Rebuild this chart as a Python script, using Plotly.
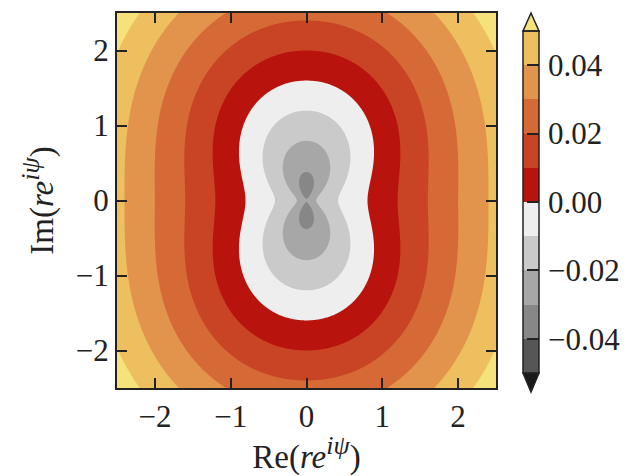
import numpy as np
import plotly.graph_objects as go

# ---- contour levels / colours ----
level_start = -0.05
level_end = 0.05
level_step = 0.01
band_colors = ["#1a1a1a", "#565656", "#878787", "#a7a7a7", "#cacaca", "#eeeeee",
               "#b8140d", "#c94424", "#d66a36", "#e2944c", "#edbf5e", "#f6e27a"]
cbar_tickvals = [-0.04, -0.02, 0.0, 0.02, 0.04]
cbar_ticktext = ["\u22120.04", "\u22120.02", "0.00", "0.02", "0.04"]
axis_tickvals = [-2, -1, 0, 1, 2]
axis_ticktext = ["\u22122", "\u22121", "0", "1", "2"]

# ---- scalar field: parameters estimated from where the contours cross the axes ----
radial_slope = 0.025      # value change per unit radius
centre_value = -0.03      # value at the origin
aniso_amp = 0.01          # +0.01 on Re axis, -0.01 on Im axis
core_radius = 0.087       # size of the central saddle
shape_p = 2.15            # slight squareness of outer contours

x = np.linspace(-2.5, 2.5, 501)
y = np.linspace(-2.5, 2.5, 501)
X, Y = np.meshgrid(x, y)
Rp = (np.abs(X) ** shape_p + np.abs(Y) ** shape_p) ** (1.0 / shape_p)
Z = radial_slope * Rp + centre_value + aniso_amp * (X ** 2 - Y ** 2) / (X ** 2 + Y ** 2 + core_radius ** 2)

# stepped colourscale: band k (incl. the two open-ended bands) sits at k/(n-1)
n = len(band_colors)
colorscale = []
for k, c in enumerate(band_colors):
    lo = max(0.0, (k - 0.5) / (n - 1))
    hi = min(1.0, (k + 0.5) / (n - 1))
    colorscale.append([lo, c])
    colorscale.append([hi, c])

# colour-bar bands (the inner, closed bands)
band_centres = np.arange(level_start + level_step / 2, level_end, level_step)
band_index = np.arange(1, len(band_centres) + 1)

FONT = "Liberation Serif"
TICK_SIZE = 31
TITLE_SIZE = 33
INK = "#222"
W, H = 634, 476
L, R, T, B = 117, 90, 11, 88
plot_right = 496
plot_h = H - T - B
paper_w = W - L - R


def px_x(px):
    return (px - L) / paper_w


def px_y(py):
    return (H - B - py) / plot_h


cb_left, cb_right = 523, 539
cb_top, cb_bot = 29, 373
tip_top, tip_bot = 11, 392

fig = go.Figure()
fig.add_trace(go.Contour(
    x=x, y=y, z=Z,
    contours=dict(start=level_start, end=level_end, size=level_step,
                  coloring="fill", showlines=False),
    line=dict(width=0),
    colorscale=colorscale,
    showscale=False,
    hoverinfo="skip",
))
# colour bar drawn as a one-column heatmap on its own axes
fig.add_trace(go.Heatmap(
    x=[0], y=band_centres, z=[[v] for v in band_index],
    colorscale=colorscale, zmin=0, zmax=n - 1, showscale=False,
    xaxis="x2", yaxis="y2", hoverinfo="skip",
))

shapes = []
cx = (cb_left + cb_right) / 2
tri_top = "M {} {} L {} {} L {} {} Z".format(px_x(cb_left), px_y(cb_top), px_x(cb_right), px_y(cb_top), px_x(cx), px_y(tip_top))
tri_bot = "M {} {} L {} {} L {} {} Z".format(px_x(cb_left), px_y(cb_bot), px_x(cb_right), px_y(cb_bot), px_x(cx), px_y(tip_bot))
shapes.append(dict(type="path", xref="paper", yref="paper", path=tri_top,
                   fillcolor=band_colors[-1], line=dict(color=INK, width=1.5)))
shapes.append(dict(type="path", xref="paper", yref="paper", path=tri_bot,
                   fillcolor=band_colors[0], line=dict(color=INK, width=1.5)))
shapes.append(dict(type="rect", xref="paper", yref="paper",
                   x0=px_x(cb_left), x1=px_x(cb_right), y0=px_y(cb_bot), y1=px_y(cb_top),
                   line=dict(color=INK, width=1.5)))

axis_common = dict(
    range=[-2.5, 2.5], tickmode="array", tickvals=axis_tickvals, ticktext=axis_ticktext,
    ticks="inside", ticklen=10, tickwidth=2, tickcolor=INK,
    showline=True, linewidth=2, linecolor=INK, mirror="ticks",
    showgrid=False, zeroline=False,
    tickfont=dict(family=FONT, size=TICK_SIZE, color=INK),
)


def title_text(part):
    return part + "(<i>re</i><sup><span style=\"font-size:26px\"><i>i\u03c8</i></span></sup>)"


fig.update_layout(
    width=W, height=H,
    margin=dict(l=L, r=R, t=T, b=B),
    paper_bgcolor="white", plot_bgcolor="white",
    shapes=shapes,
    xaxis=dict(**axis_common, domain=[0, px_x(plot_right)],
               title=dict(text=title_text("Re"),
                          font=dict(family=FONT, size=TITLE_SIZE, color=INK), standoff=8)),
    yaxis=dict(**axis_common, domain=[0, 1],
               title=dict(text=title_text("Im"),
                          font=dict(family=FONT, size=TITLE_SIZE, color=INK), standoff=12)),
    xaxis2=dict(domain=[px_x(cb_left), px_x(cb_right)], range=[-0.5, 0.5],
                visible=False, anchor="y2", fixedrange=True),
    yaxis2=dict(domain=[px_y(cb_bot), px_y(cb_top)], range=[level_start, level_end],
                anchor="x2", side="right", showgrid=False, zeroline=False,
                tickmode="array", tickvals=cbar_tickvals, ticktext=cbar_ticktext,
                ticks="inside", ticklen=12, tickwidth=1.5, tickcolor=INK,
                ticklabelstandoff=8,
                tickfont=dict(family=FONT, size=TICK_SIZE, color=INK), fixedrange=True),
)

fig.write_html("out.html")
